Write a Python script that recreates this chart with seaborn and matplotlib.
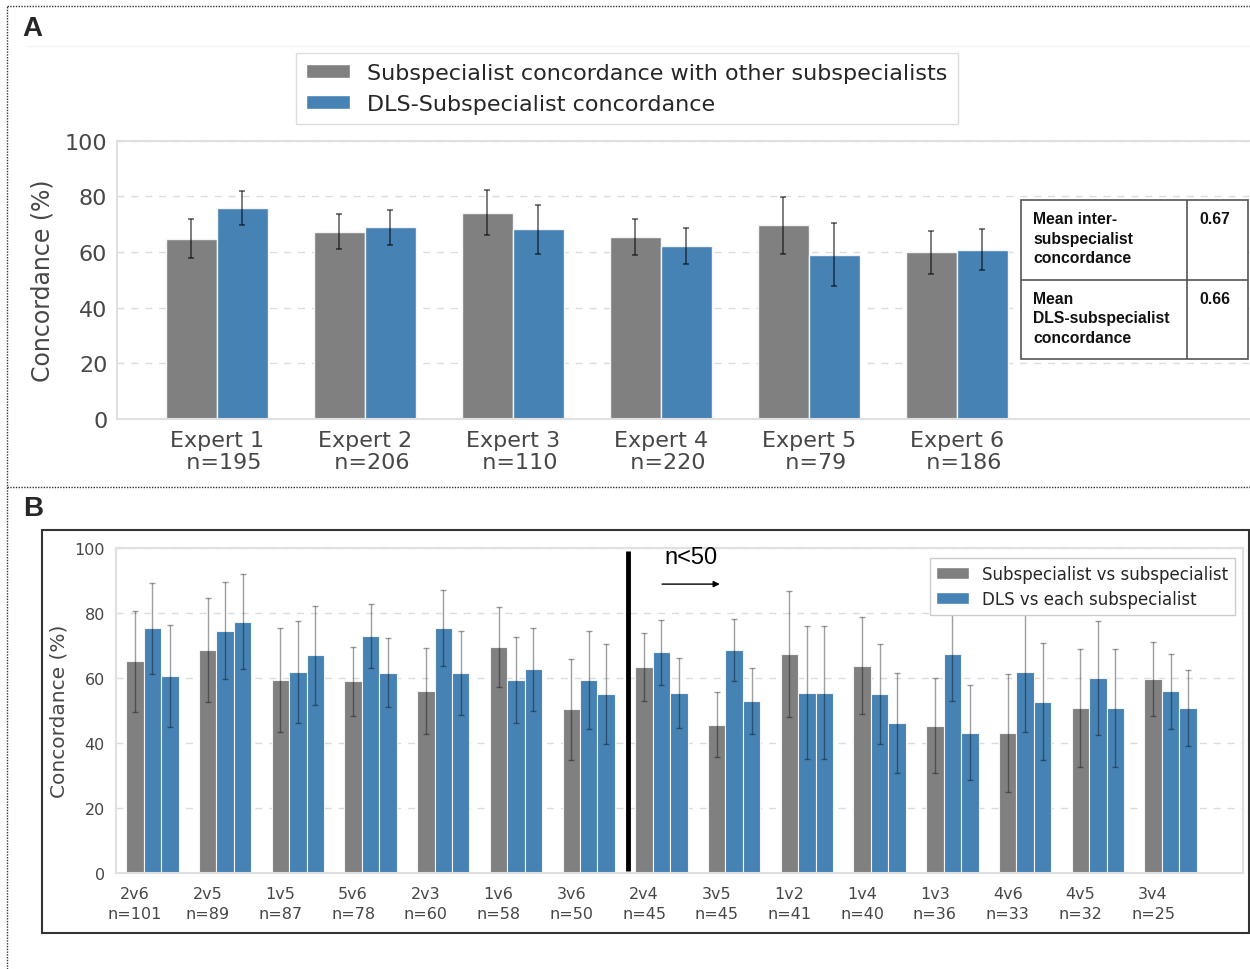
import numpy as np
import pandas as pd
import matplotlib
matplotlib.use("Agg")
import matplotlib.pyplot as plt
import seaborn as sns
from matplotlib.patches import Patch, Rectangle
from matplotlib.lines import Line2D

# ---------------- data ----------------
# Panel A: each expert against the others, and the DLS against each expert
experts = ["Expert 1", "Expert 2", "Expert 3", "Expert 4", "Expert 5", "Expert 6"]
expert_n = [195, 206, 110, 220, 79, 186]
inter_mean = [64.7, 67.3, 74.1, 65.3, 69.5, 59.8]
inter_err = [7.0, 6.3, 8.2, 6.4, 10.3, 7.6]
dls_mean = [75.7, 68.9, 68.1, 62.0, 59.0, 60.8]
dls_err = [6.0, 6.3, 8.7, 6.5, 11.3, 7.4]
table_rows = ["Mean inter-\nsubspecialist\nconcordance",
              "Mean\nDLS-subspecialist\nconcordance"]
table_vals = ["0.67", "0.66"]

# Panel B: pairwise comparisons
pairs = ["2v6", "2v5", "1v5", "5v6", "2v3", "1v6", "3v6", "2v4",
         "3v5", "1v2", "1v4", "1v3", "4v6", "4v5", "3v4"]
pair_n = [101, 89, 87, 78, 60, 58, 50, 45, 45, 41, 40, 36, 33, 32, 25]
pair_mean = [65.2, 68.7, 59.4, 59.0, 56.1, 69.6, 50.4, 63.4,
             45.7, 67.3, 63.8, 45.4, 43.2, 50.8, 59.7]
pair_err = [15.5, 16.0, 16.0, 10.7, 13.3, 12.3, 15.5, 10.5,
            10.0, 19.4, 14.9, 14.7, 18.2, 18.1, 11.3]
dls_first_mean = [75.3, 74.6, 62.0, 73.0, 75.3, 59.4, 59.4, 68.0,
                  68.7, 55.5, 55.1, 67.3, 62.0, 60.1, 55.9]
dls_first_err = [14.0, 15.0, 15.7, 9.8, 11.7, 13.1, 15.1, 10.0,
                 9.5, 20.5, 15.3, 14.3, 18.5, 17.6, 11.5]
dls_second_mean = [60.6, 77.4, 67.0, 61.6, 61.6, 62.7, 55.1, 55.5,
                   53.0, 55.5, 46.2, 43.2, 52.8, 50.8, 50.8]
dls_second_err = [15.6, 14.5, 15.2, 10.6, 13.0, 12.8, 15.3, 10.8,
                  10.2, 20.5, 15.3, 14.6, 18.0, 18.1, 11.8]
small_n = 50

# ---------------- style ----------------
sns.set_theme(style="white")
plt.rcParams['font.family'] = ['DejaVu Sans']
GRAY = "#808080"
BLUE = "#4682b4"
TICK = "#474747"
SPINE = "#e0e0e0"
GRID = "#dcdcdc"

W, H = 1250, 970
fig = plt.figure(figsize=(W / 100, H / 100), dpi=100)


def fx(px):
    return px / W


def fy(py):
    return 1 - py / H


def add_errorbars(ax, errs, color, alpha, lw, cap):
    for cont, err in zip(ax.containers, errs):
        xs = [b.get_x() + b.get_width() / 2 for b in cont]
        ys = [b.get_height() for b in cont]
        ax.errorbar(xs, ys, yerr=err, fmt="none", ecolor=color, alpha=alpha,
                    elinewidth=lw, capsize=cap, capthick=lw, zorder=3)


# ---------------- panel A ----------------
axA = fig.add_axes([fx(117), fy(420), fx(1252 - 117), (420 - 141.5) / H])
lab_inter = "Subspecialist concordance with other subspecialists"
lab_dls = "DLS-Subspecialist concordance"
df_a = pd.DataFrame({
    "expert": experts * 2,
    "series": [lab_inter] * len(experts) + [lab_dls] * len(experts),
    "value": inter_mean + dls_mean,
})
sns.barplot(data=df_a, x="expert", y="value", hue="series",
            hue_order=[lab_inter, lab_dls], palette=[GRAY, BLUE],
            width=0.69, saturation=1, errorbar=None, edgecolor="#f4f4f4",
            linewidth=1, legend=False, ax=axA)
add_errorbars(axA, [inter_err, dls_err], "black", 0.55, 1.3, 2.5)

axA.set_xlim(-0.674, 6.995)
axA.set_ylim(0, 100)
axA.set_yticks(np.arange(0, 101, 20))
axA.set_axisbelow(True)
axA.yaxis.grid(True, ls=(0, (5, 5)), color=GRID, lw=1)
axA.xaxis.grid(False)
axA.set_xticks(range(len(experts)))
axA.set_xticklabels([f"{e}\n  n={n}" for e, n in zip(experts, expert_n)],
                    fontsize=16, color=TICK, linespacing=1.12)
axA.tick_params(axis="y", labelsize=16, labelcolor=TICK, length=0, pad=7)
axA.tick_params(axis="x", length=0, pad=8)
axA.set_xlabel("")
axA.set_ylabel("Concordance (%)", fontsize=17, color=TICK, labelpad=7)
for side in ["left", "top", "bottom"]:
    axA.spines[side].set_color(SPINE)
    axA.spines[side].set_linewidth(1.5)
axA.spines["right"].set_visible(False)

fig.legend(handles=[Patch(facecolor=GRAY), Patch(facecolor=BLUE)],
           labels=[lab_inter, lab_dls], loc="center",
           bbox_to_anchor=(fx(627), fy(89.5)), fontsize=16,
           handlelength=1.95, handleheight=0.6, handletextpad=0.8,
           labelspacing=0.5, borderpad=0.45, fancybox=False,
           edgecolor="#dddddd", framealpha=1)

# summary table on the right of panel A
axT = fig.add_axes([fx(1021), fy(360), fx(1248 - 1021), (360 - 201) / H])
axT.set_xlim(0, 1)
axT.set_ylim(0, 1)
axT.axis("off")
axT.add_patch(Rectangle((0, 0), 1, 1, facecolor="white", edgecolor="#555555",
                        lw=1.2, clip_on=False))
col_split = (1187 - 1021) / (1248 - 1021)
row_split = (360 - 281) / (360 - 201)
axT.plot([col_split, col_split], [0, 1], color="#555555", lw=1.2)
axT.plot([0, 1], [row_split, row_split], color="#555555", lw=1.2)
for top, label, val in zip([0.93, 0.43], table_rows, table_vals):
    axT.text(0.053, top, label, ha="left", va="top", fontsize=11.3,
             fontweight="bold", family="Liberation Sans", linespacing=1.38,
             color="#111111")
    axT.text(0.852, top, val, ha="center", va="top", fontsize=11.3,
             fontweight="bold", family="Liberation Sans", color="#111111")

# ---------------- panel B ----------------
axB = fig.add_axes([fx(116), fy(874.3), fx(1243.3 - 116), (874.3 - 549) / H])
df_b = pd.DataFrame({
    "pair": pairs * 3,
    "series": ["pair"] * len(pairs) + ["dls_first"] * len(pairs)
              + ["dls_second"] * len(pairs),
    "value": pair_mean + dls_first_mean + dls_second_mean,
})
sns.barplot(data=df_b, x="pair", y="value", hue="series",
            hue_order=["pair", "dls_first", "dls_second"],
            palette=[GRAY, BLUE, BLUE], width=0.72, saturation=1,
            errorbar=None, edgecolor="#f4f4f4", linewidth=0.8,
            legend=False, ax=axB)
add_errorbars(axB, [pair_err, dls_first_err, dls_second_err],
              "black", 0.38, 1.0, 2.5)

bar_w = 0.72 / 3
axB.set_xlim(-0.5, len(pairs))
axB.set_ylim(0, 100)
axB.set_yticks(np.arange(0, 101, 20))
axB.set_axisbelow(True)
axB.yaxis.grid(True, ls=(0, (5, 5)), color=GRID, lw=1)
axB.xaxis.grid(False)
axB.set_xticks(np.arange(len(pairs)) - bar_w)
axB.set_xticklabels([f"{p}\nn={n}" for p, n in zip(pairs, pair_n)],
                    fontsize=11.5, color=TICK, linespacing=1.4)
axB.tick_params(axis="y", labelsize=11.5, labelcolor=TICK, length=0, pad=8)
axB.tick_params(axis="x", length=0, pad=9)
axB.set_xlabel("")
axB.set_ylabel("Concordance (%)", fontsize=14.5, color=TICK, labelpad=4)
for side in axB.spines:
    axB.spines[side].set_color(SPINE)
    axB.spines[side].set_linewidth(1.5)

# divider before the comparisons with fewer than 50 cases
first_small = next(i for i, n in enumerate(pair_n) if n < small_n)
x_div = first_small - 0.46
axB.plot([x_div, x_div], [0.6, 99.2], color="black", lw=3.5, zorder=5,
         solid_capstyle="butt")
axB.text(first_small + 0.40, 97.2, f"n<{small_n}", ha="center", va="center",
         fontsize=17, family="Liberation Sans", color="black")
axB.annotate("", xy=(first_small + 0.84, 88.9),
             xytext=(first_small - 0.03, 88.9),
             arrowprops=dict(arrowstyle="-|>", color="black", lw=1,
                             mutation_scale=9))

legB = axB.legend(handles=[Patch(facecolor=GRAY), Patch(facecolor=BLUE)],
                  labels=["Subspecialist vs subspecialist",
                          "DLS vs each subspecialist"],
                  loc="upper right", bbox_to_anchor=(0.9927, 0.9693),
                  borderaxespad=0, fontsize=12, handlelength=1.95,
                  handleheight=0.7, handletextpad=0.8, labelspacing=0.45,
                  fancybox=False, edgecolor="#cccccc", framealpha=1)
legB.set_zorder(10)

# ---------------- figure decorations ----------------
dot = dict(transform=fig.transFigure, ls=(0, (1, 1)), color="#333333", lw=1)
fig.add_artist(Line2D([fx(7), 1], [fy(7), fy(7)], **dot))
fig.add_artist(Line2D([fx(7), fx(7)], [0, fy(7)], **dot))
fig.add_artist(Line2D([fx(7), 1], [fy(487.5), fy(487.5)], **dot))
fig.add_artist(Line2D([fx(27), 1], [fy(47), fy(47)], transform=fig.transFigure,
                      color="#f2f2f2", lw=1))
fig.add_artist(Rectangle((fx(41.7), fy(934)), fx(1249.3 - 41.7), (934 - 531) / H,
                         transform=fig.transFigure, fill=False,
                         edgecolor="#333333", lw=1.5))

fig.text(fx(22), fy(36), "A", fontsize=20, fontweight="bold",
         family="Liberation Sans", va="baseline")
fig.text(fx(23), fy(516), "B", fontsize=20, fontweight="bold",
         family="Liberation Sans", va="baseline")

fig.savefig("out.png", dpi=100, facecolor="white")
